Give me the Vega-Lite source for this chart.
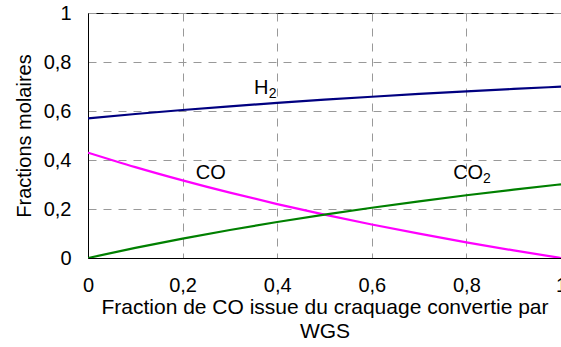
{
  "$schema": "https://vega.github.io/schema/vega-lite/v6.json",
  "autosize": {"type": "none"},
  "padding": {"left": 88, "top": 13, "right": 0, "bottom": 89},
  "width": 473,
  "height": 245,
  "background": "white",
  "config": {
    "font": "Liberation Sans",
    "view": {"stroke": "black", "strokeWidth": 1},
    "axis": {
      "labelFont": "Liberation Sans",
      "titleFont": "Liberation Sans",
      "labelFontSize": 20,
      "titleFontSize": 21,
      "labelColor": "black",
      "titleColor": "black",
      "titleFontWeight": "normal",
      "ticks": false,
      "domainColor": "black",
      "domainWidth": 1,
      "gridColor": "#999999",
      "gridDash": [8, 7],
      "gridWidth": 1,
      "gridOpacity": 1
    }
  },
  "datasets": {
    "series": [
      {"f": 0.0, "gas": "H2", "frac": 0.5700},
      {"f": 0.1, "gas": "H2", "frac": 0.5877},
      {"f": 0.2, "gas": "H2", "frac": 0.6041},
      {"f": 0.3, "gas": "H2", "frac": 0.6191},
      {"f": 0.4, "gas": "H2", "frac": 0.6331},
      {"f": 0.5, "gas": "H2", "frac": 0.6461},
      {"f": 0.6, "gas": "H2", "frac": 0.6582},
      {"f": 0.7, "gas": "H2", "frac": 0.6695},
      {"f": 0.8, "gas": "H2", "frac": 0.6801},
      {"f": 0.9, "gas": "H2", "frac": 0.6900},
      {"f": 1.0, "gas": "H2", "frac": 0.6993},
      {"f": 0.0, "gas": "CO", "frac": 0.4300},
      {"f": 0.1, "gas": "CO", "frac": 0.3710},
      {"f": 0.2, "gas": "CO", "frac": 0.3168},
      {"f": 0.3, "gas": "CO", "frac": 0.2666},
      {"f": 0.4, "gas": "CO", "frac": 0.2201},
      {"f": 0.5, "gas": "CO", "frac": 0.1770},
      {"f": 0.6, "gas": "CO", "frac": 0.1367},
      {"f": 0.7, "gas": "CO", "frac": 0.0992},
      {"f": 0.8, "gas": "CO", "frac": 0.0640},
      {"f": 0.9, "gas": "CO", "frac": 0.0310},
      {"f": 1.0, "gas": "CO", "frac": 0.0000},
      {"f": 0.0, "gas": "CO2", "frac": 0.0000},
      {"f": 0.1, "gas": "CO2", "frac": 0.0412},
      {"f": 0.2, "gas": "CO2", "frac": 0.0792},
      {"f": 0.3, "gas": "CO2", "frac": 0.1143},
      {"f": 0.4, "gas": "CO2", "frac": 0.1468},
      {"f": 0.5, "gas": "CO2", "frac": 0.1770},
      {"f": 0.6, "gas": "CO2", "frac": 0.2051},
      {"f": 0.7, "gas": "CO2", "frac": 0.2314},
      {"f": 0.8, "gas": "CO2", "frac": 0.2560},
      {"f": 0.9, "gas": "CO2", "frac": 0.2790},
      {"f": 1.0, "gas": "CO2", "frac": 0.3007}
    ],
    "labels": [
      {"label": "H", "f": 0.351, "frac": 0.669},
      {"label": "CO", "f": 0.228, "frac": 0.322},
      {"label": "CO", "f": 0.772, "frac": 0.322}
    ],
    "subs": [
      {"label": "2", "f": 0.382, "frac": 0.653},
      {"label": "2", "f": 0.835, "frac": 0.306}
    ]
  },
  "layer": [
    {
      "data": {"name": "series"},
      "mark": {"type": "line", "strokeWidth": 2.2, "interpolate": "monotone", "clip": true},
      "encoding": {
        "x": {
          "field": "f", "type": "quantitative",
          "scale": {"domain": [0, 1], "nice": false, "zero": false},
          "axis": {
            "values": [0, 0.2, 0.4, 0.6, 0.8, 1],
            "format": ".1~f",
            "labelExpr": "replace(datum.label, '.', ',')",
            "labelPadding": 17,
            "labelFlush": false,
            "labelOverlap": false,
            "title": ["Fraction de CO issue du craquage convertie par", "WGS"],
            "titlePadding": 1,
            "titleLineHeight": 24,
            "grid": true
          }
        },
        "y": {
          "field": "frac", "type": "quantitative",
          "scale": {"domain": [0, 1], "nice": false},
          "axis": {
            "values": [0, 0.2, 0.4, 0.6, 0.8, 1],
            "format": ".1~f",
            "labelExpr": "replace(datum.label, '.', ',')",
            "labelPadding": 17,
            "labelFlush": false,
            "labelOverlap": false,
            "title": "Fractions molaires",
            "titlePadding": 9,
            "titleFontSize": 20,
            "grid": true
          }
        },
        "color": {
          "field": "gas", "type": "nominal",
          "scale": {"domain": ["H2", "CO", "CO2"], "range": ["#000080", "#FF00FF", "#008000"]},
          "legend": null
        },
        "detail": {"field": "gas"}
      }
    },
    {
      "data": {"name": "labels"},
      "mark": {"type": "text", "align": "left", "baseline": "alphabetic", "fontSize": 20, "font": "Liberation Sans", "color": "black"},
      "encoding": {
        "x": {"field": "f", "type": "quantitative"},
        "y": {"field": "frac", "type": "quantitative"},
        "text": {"field": "label"}
      }
    },
    {
      "data": {"name": "subs"},
      "mark": {"type": "text", "align": "left", "baseline": "alphabetic", "fontSize": 14, "font": "Liberation Sans", "color": "black"},
      "encoding": {
        "x": {"field": "f", "type": "quantitative"},
        "y": {"field": "frac", "type": "quantitative"},
        "text": {"field": "label"}
      }
    }
  ]
}
